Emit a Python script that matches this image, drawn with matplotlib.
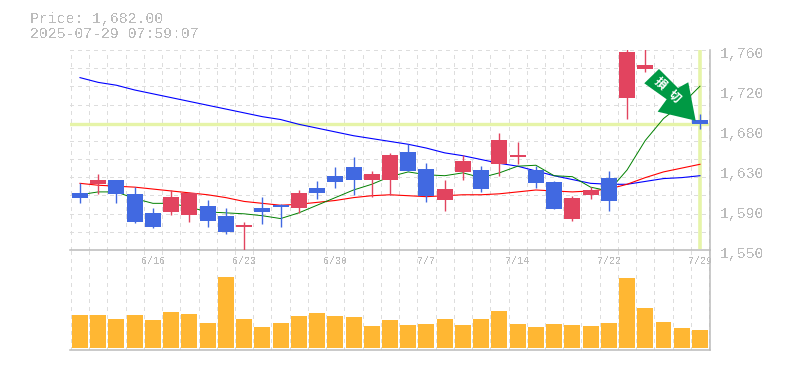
import numpy as np
import matplotlib
matplotlib.use("Agg")
import matplotlib.pyplot as plt
from matplotlib.patches import Polygon
from matplotlib.transforms import Affine2D

plt.rcParams['font.family'] = ['Liberation Mono', 'DejaVu Sans Mono']
plt.rcParams['text.antialiased'] = False

nan = float('nan')

# Datos (precios en yenes), rojo = sube, azul = baja
tops = [1610, 1624, 1623, 1609, 1589, 1606, 1610, 1596, 1586, 1576, 1594, 1597, 1610, 1615, 1628, 1637, 1630, 1650,
        1653, 1635, 1614, 1643, 1634, 1665, 1650, 1634, 1621, 1605, 1613, 1626, 1758, 1744, nan, nan, 1686]
bottoms = [1605, 1619, 1609, 1579, 1574, 1590, 1587, 1580, 1569, 1574, 1590, 1595, 1594, 1610, 1621, 1624, 1623, 1623,
           1633, 1607, 1602, 1632, 1614, 1640, 1648, 1620, 1593, 1583, 1608, 1601, 1710, 1740, nan, nan, 1682]
highs = [1620, 1630, 1624, 1616, 1594, 1613, 1611, 1602, 1594, 1579, 1606, 1598, 1613, 1622, 1637, 1648, 1633, 1652,
         1661, 1641, 1624, 1650, 1638, 1673, 1663, 1638, 1622, 1607, 1616, 1633, 1765, 1765, nan, nan, 1693]
lows = [1599, 1609, 1599, 1578, 1573, 1587, 1579, 1574, 1567, 1549, 1577, 1574, 1589, 1604, 1615, 1608, 1606, 1608,
        1633, 1600, 1591, 1623, 1611, 1628, 1640, 1615, 1593, 1580, 1604, 1591, 1688, 1737, nan, nan, 1677]
up = [0, 1, 0, 0, 0, 1, 1, 0, 0, 1, 0, 0, 1, 0, 0, 0, 1, 1,
      0, 0, 1, 1, 0, 1, 1, 0, 0, 1, 1, 0, 1, 1, 0, 0, 0]

ma_blue = [1731, 1726, 1723, 1718, 1714, 1710, 1706, 1702, 1698, 1694, 1690, 1687, 1682, 1678, 1674, 1670, 1667, 1664,
           1661, 1657, 1652, 1649, 1645, 1641, 1638, 1633, 1628, 1624, 1620, 1619, 1619, 1622, 1625, 1626, 1628]
ma_red = [1620, 1618, 1617, 1616, 1614, 1612, 1610, 1608, 1605, 1601, 1599, 1597, 1598, 1600, 1602, 1605, 1607, 1608,
          1607, 1606, 1607, 1608, 1608, 1609, 1611, 1613, 1612, 1611, 1612, 1614, 1619, 1626, 1632, 1636, 1640]
ma_green = [1608, 1611, 1611, 1604, 1599, 1599, 1595, 1590, 1589, 1588, 1586, 1583, 1589, 1597, 1605, 1613, 1619, 1627,
            1632, 1629, 1628, 1631, 1626, 1631, 1638, 1639, 1628, 1627, 1616, 1612, 1634, 1665, 1688, 1703, 1722]

volumes = [33, 33, 29, 33, 28, 36, 34, 25, 71, 29, 21, 25, 32, 35, 32, 31, 22, 28,
           23, 24, 29, 23, 29, 37, 24, 21, 24, 23, 22, 25, 70, 40, 26, 20, 18]

date_idx = [4, 9, 14, 19, 24, 29, 34]
date_labels = ["6/16", "6/23", "6/30", "7/7", "7/14", "7/22", "7/29"]
price_ticks = [1760, 1718, 1676, 1634, 1592, 1550]
price_labels = ["1,760", "1,720", "1,680", "1,630", "1,590", "1,550"]
last_price = 1682

# Colores
c_up = '#e2445f'
c_down = '#4169e1'
c_vol = '#ffb733'
c_text = '#bbbbbb'
c_grid = '#dddddd'
c_mark = '#e6f4a8'
c_arrow = '#009944'

W, H = 785, 370
fig = plt.figure(figsize=(W / 100, H / 100), dpi=100)
ax_v = fig.add_axes([70 / W, 1 - 350 / H, 640 / W, 100 / H])
ax = fig.add_axes([70 / W, 1 - 250 / H, 640 / W, 200 / H])
ax.patch.set_visible(False)
ax_v.patch.set_visible(False)

x = np.arange(len(volumes))
xlim = (-0.548, 34.55)

# Ejes y rejilla
for a in (ax, ax_v):
    a.set_xlim(xlim)
    a.set_xticks(np.arange(-0.5, 35), minor=True)
    a.grid(True, which='minor', axis='x', color=c_grid, lw=1, ls=(0, (2.5, 3)), antialiased=False)
    a.tick_params(which='both', length=0)
    a.set_axisbelow(True)
    for s in ('top', 'left'):
        a.spines[s].set_visible(False)
    for s in ('right', 'bottom'):
        a.spines[s].set_color(c_text)
        a.spines[s].set_linewidth(1.1)

ax.set_ylim(1550, 1760)
ax.set_yticks(np.linspace(1550, 1760, 12), minor=True)
ax.set_yticks([])
ax.grid(True, which='minor', axis='y', color=c_grid, lw=1, ls=(0, (2.5, 3)), antialiased=False)
ax.set_xticks(date_idx)
ax.set_xticklabels(date_labels, fontsize=7.2, color=c_text)
ax.tick_params(axis='x', which='major', pad=4.5)
ax_v.set_xticks([])

for val, lab in zip(price_ticks, price_labels):
    ax.annotate(lab, xy=(1, val), xycoords=ax.get_yaxis_transform(), xytext=(7.5, -2.9),
                textcoords='offset points', va='center', ha='left', fontsize=10.7, color=c_text)

# Marcas del ultimo precio
ax.axhline(last_price, color=c_mark, lw=2.4, zorder=1.5)
ax.plot([x[-1], x[-1]], [1551, 1760], color=c_mark, lw=2.6, zorder=1.5, solid_capstyle='butt')

# Medias moviles
ax.plot(x, ma_blue, color='#0000ff', lw=0.8, zorder=2)
ax.plot(x, ma_red, color='#ff0000', lw=0.8, zorder=2)
ax.plot(x, ma_green, color='#008000', lw=0.7, zorder=2)

# Velas
colors = [c_up if u else c_down for u in up]
tops_a = np.array(tops, dtype=float)
bottoms_a = np.array(bottoms, dtype=float)
ax.vlines(x, lows, highs, colors=colors, lw=1.0, zorder=3)
ax.bar(x, tops_a - bottoms_a, bottom=bottoms_a, width=0.877, color=colors, lw=0, zorder=3)

# Volumen
ax_v.bar(x, volumes, width=0.877, color=c_vol, lw=0, zorder=3)
ax_v.set_ylim(-2, 98)
ax_v.set_yticks([])

# Flecha de senal, relativa al ultimo precio (pixeles)
tx, ty = ax.transData.transform((x[-1], last_price))
arrow_px = [(-41, 55.3), (-55.7, 41), (-33.3, 25), (-42.3, 12.6), (-4.3, 3.6), (-11.7, 42), (-22, 36.3)]
ax.add_patch(Polygon(arrow_px, closed=True, facecolor=c_arrow, edgecolor='none', zorder=5, clip_on=False,
                     transform=Affine2D().translate(tx, ty)))
for ch, off in zip("損切", [(-28.8, 29), (-18.9, 19.9)]):
    ax.annotate(ch, xy=(x[-1], last_price), xytext=off, textcoords='offset points', color='white',
                fontsize=8.5, fontweight='bold', family=['Noto Sans CJK JP', 'DejaVu Sans'], rotation=-42,
                rotation_mode='anchor', ha='center', va='center', zorder=6, antialiased=True)

# Cabecera
fig.text(30 / W, 1 - 23 / H, "Price: 1,682.00", fontsize=10.7, color=c_text, va='baseline')
fig.text(30 / W, 1 - 38 / H, "2025-07-29 07:59:07", fontsize=10.7, color=c_text, va='baseline')

fig.savefig("out.png", dpi=100)
